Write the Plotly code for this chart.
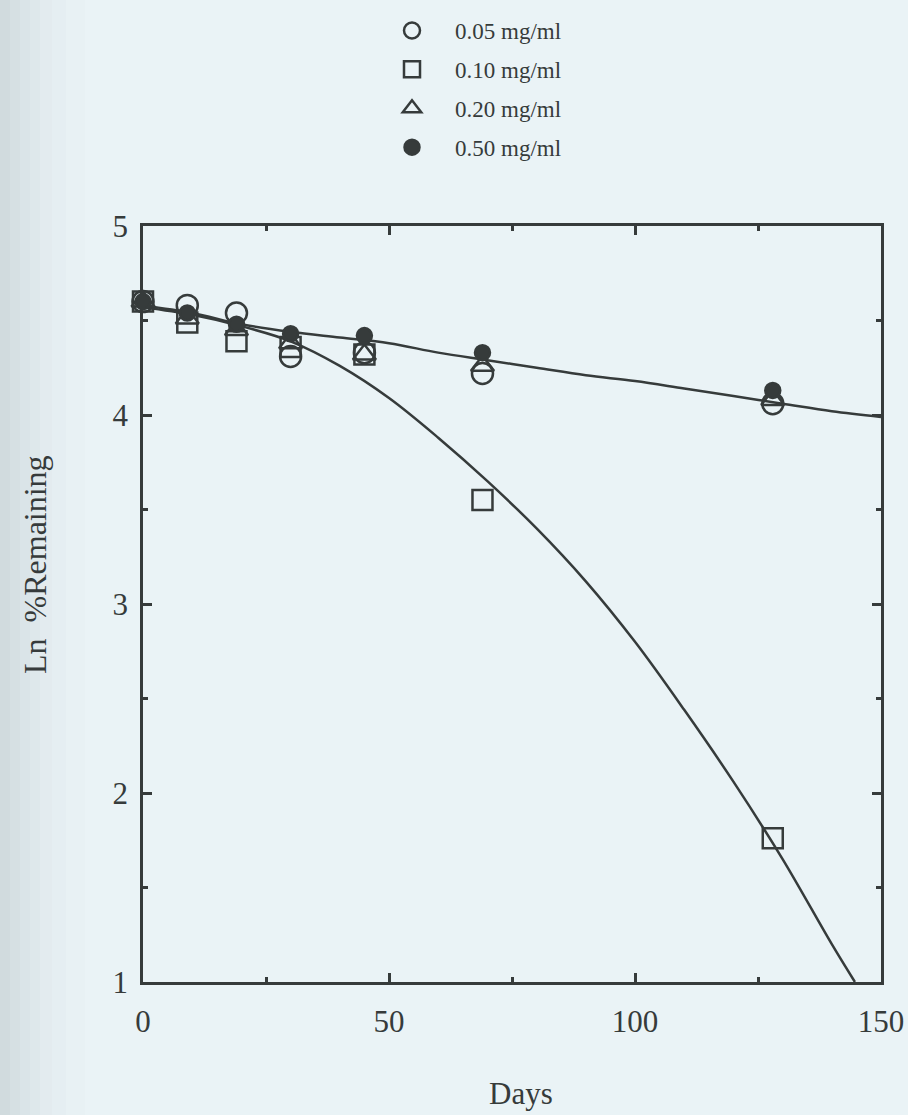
import plotly.graph_objects as go

# ---- data ----
days = [0, 9, 19, 30, 45, 69, 128]
c005 = [4.60, 4.58, 4.54, 4.31, 4.33, 4.22, 4.06]
c010 = [4.60, 4.49, 4.39, 4.36, 4.32, 3.55, 1.76]
c020 = [4.60, 4.51, 4.45, 4.38, 4.32, 4.26, 4.08]
c050 = [4.60, 4.54, 4.48, 4.43, 4.42, 4.33, 4.13]

fit_hi_x = [0, 10, 20, 30, 40, 50, 60, 70, 80, 90, 100, 110, 120, 130, 140, 150]
fit_hi_y = [4.58, 4.54, 4.48, 4.44, 4.41, 4.38, 4.33, 4.29, 4.25, 4.21, 4.18, 4.14, 4.10, 4.06, 4.02, 3.99]

fit_lo_x = [0, 10, 20, 30, 40, 50, 60, 70, 80, 90, 100, 110, 120, 130, 140, 144.7]
fit_lo_y = [4.57, 4.53, 4.47, 4.39, 4.26, 4.09, 3.88, 3.65, 3.40, 3.12, 2.80, 2.44, 2.06, 1.65, 1.20, 1.00]

labels = ["0.05 mg/ml", "0.10 mg/ml", "0.20 mg/ml", "0.50 mg/ml"]

INK = "#363b3b"
BG = "#eaf3f6"
FONT = "Liberation Serif"

fig = go.Figure()

fig.add_trace(go.Scatter(x=fit_hi_x, y=fit_hi_y, mode="lines", line=dict(color=INK, width=2.5, shape="spline"),
                         showlegend=False, hoverinfo="skip"))
fig.add_trace(go.Scatter(x=fit_lo_x, y=fit_lo_y, mode="lines", line=dict(color=INK, width=2.5, shape="spline"),
                         showlegend=False, hoverinfo="skip"))

series = [(c005, "circle-open", 21), (c010, "square-open", 20), (c020, "triangle-up-open", 20), (c050, "circle", 15)]
for i, ((vals, sym, sz), lab) in enumerate(zip(series, labels)):
    fig.add_trace(go.Scatter(
        x=days, y=vals, mode="markers", name=lab, legendgroup=f"g{i}",
        marker=dict(symbol=sym, size=sz, color=INK, line=dict(color=INK, width=2.5)),
        cliponaxis=False,
    ))

# left-edge scan shading
shade = [(0, 10, 0.20), (10, 20, 0.16), (20, 30, 0.12), (30, 40, 0.09), (40, 52, 0.06), (52, 66, 0.035), (66, 85, 0.015)]
for x0, x1, op in shade:
    fig.add_shape(type="rect", xref="paper", yref="paper",
                  x0=(x0 - 143) / 738, x1=(x1 - 143) / 738, y0=-1, y1=2,
                  fillcolor="#6f7f84", opacity=op, line_width=0, layer="below")

axis_common = dict(
    showline=True, linecolor=INK, linewidth=2.5, mirror="ticks",
    ticks="inside", tickcolor=INK, tickwidth=2.5, ticklen=9,
    showgrid=False, zeroline=False, automargin=False,
    tickfont=dict(family=FONT, size=31, color=INK),
)

fig.update_xaxes(range=[0, 150], tickvals=[0, 50, 100, 150],
                 minor=dict(tickvals=[25, 75, 125], ticks="inside", ticklen=5, tickwidth=2.5, tickcolor=INK),
                 ticklabelstandoff=10, **axis_common)
fig.update_yaxes(range=[1, 5], tickvals=[1, 2, 3, 4, 5],
                 minor=dict(tickvals=[1.5, 2.5, 3.5, 4.5], ticks="inside", ticklen=5, tickwidth=2.5, tickcolor=INK),
                 ticklabelstandoff=6, **axis_common)

fig.add_annotation(text="Days", xref="paper", yref="paper", x=(521 - 143) / 738, y=(982 - 1093) / 756,
                   showarrow=False, font=dict(family=FONT, size=31, color=INK), xanchor="center", yanchor="middle")
fig.add_annotation(text="Ln  %Remaining", xref="paper", yref="paper", x=(35 - 143) / 738, y=(982 - 565) / 756,
                   showarrow=False, textangle=-90, font=dict(family=FONT, size=32, color=INK),
                   xanchor="center", yanchor="middle")

fig.update_layout(
    width=908, height=1115,
    margin=dict(l=143, r=27, t=226, b=133, autoexpand=False),
    paper_bgcolor=BG, plot_bgcolor=BG,
    legend=dict(x=(369 - 143) / 738, y=(982 - 9) / 756, xanchor="left", yanchor="top",
                font=dict(family=FONT, size=23, color=INK), bgcolor="rgba(0,0,0,0)",
                tracegroupgap=6, itemwidth=76, traceorder="grouped"),
)

fig.write_html("out.html")
